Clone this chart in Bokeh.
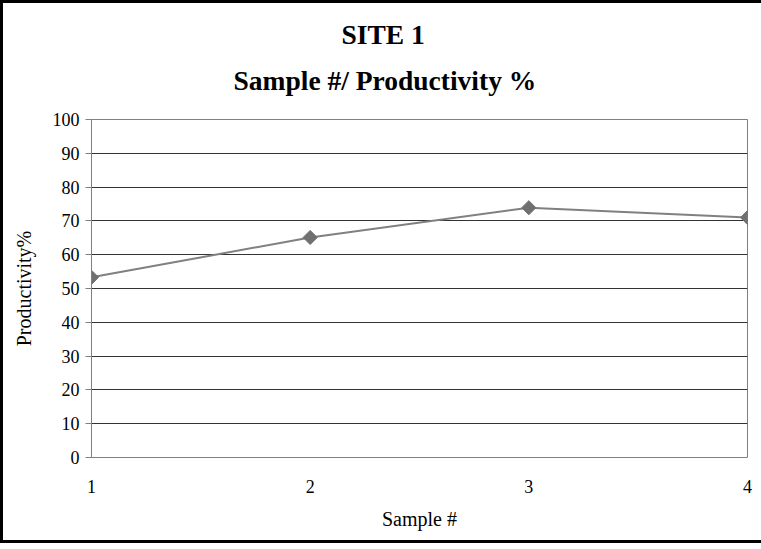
import math
from bokeh.plotting import figure
from bokeh.models import Title, Range1d, FixedTicker
from bokeh.embed import file_html
from bokeh.resources import INLINE

samples = [1, 2, 3, 4]
productivity = [53.3, 65.1, 73.9, 71.0]
y_ticks = [0, 10, 20, 30, 40, 50, 60, 70, 80, 90, 100]
title_line1 = "SITE 1"
title_line2 = "Sample #/ Productivity %"

FONT = "Liberation Serif"

p = figure(width=761, height=543, output_backend="svg", toolbar_location=None,
           x_range=Range1d(1, 4), y_range=Range1d(0, 100),
           min_border_left=88, min_border_right=17, min_border_top=0, min_border_bottom=89)
p.styles = {"border-left": "3px solid black", "border-top": "3px solid black",
            "border-bottom": "3px solid black", "border-right": "0px none"}

p.line(samples, productivity, line_color="#808080", line_width=2)
p.scatter(samples, productivity, marker="square", angle=math.pi / 4, size=10,
          fill_color="#707070", line_color="#707070")

p.outline_line_color = "#808080"
p.outline_line_width = 1
p.xgrid.visible = False
p.ygrid.grid_line_color = "#333333"
p.ygrid.grid_line_width = 1
p.ygrid.ticker = FixedTicker(ticks=y_ticks)

p.yaxis.ticker = FixedTicker(ticks=y_ticks)
p.xaxis.ticker = FixedTicker(ticks=samples)

for ax in (p.xaxis[0], p.yaxis[0]):
    ax.major_label_text_font = FONT
    ax.major_label_text_font_size = "18px"
    ax.major_label_text_color = "black"
    ax.axis_label_text_font = FONT
    ax.axis_label_text_font_size = "20px"
    ax.axis_label_text_font_style = "normal"
    ax.axis_label_text_color = "black"
    ax.minor_tick_line_color = None

p.xaxis.axis_label = "Sample #"
p.xaxis.axis_line_color = None
p.xaxis.major_tick_line_color = None
p.xaxis.major_tick_out = 0
p.xaxis.major_label_standoff = 22
p.xaxis.axis_label_standoff = 12

p.yaxis.axis_label = "Productivity%"
p.yaxis.axis_line_color = "#808080"
p.yaxis.major_tick_line_color = "#808080"
p.yaxis.major_tick_in = 0
p.yaxis.major_tick_out = 6
p.yaxis.major_label_standoff = 6
p.yaxis.axis_label_standoff = 15

# spacer between the plot frame and the two title lines
p.add_layout(Title(text=" ", text_font=FONT, text_font_size="10px", standoff=11), "above")
p.add_layout(Title(text=title_line2, text_font=FONT, text_font_size="27.5px",
                   text_font_style="bold", text_color="black", align="left",
                   offset=142, standoff=0), "above")
p.add_layout(Title(text=title_line1, text_font=FONT, text_font_size="27.5px",
                   text_font_style="bold", text_color="black", align="left",
                   offset=250, standoff=26), "above")

open("out.html", "w").write(file_html(p, INLINE))
